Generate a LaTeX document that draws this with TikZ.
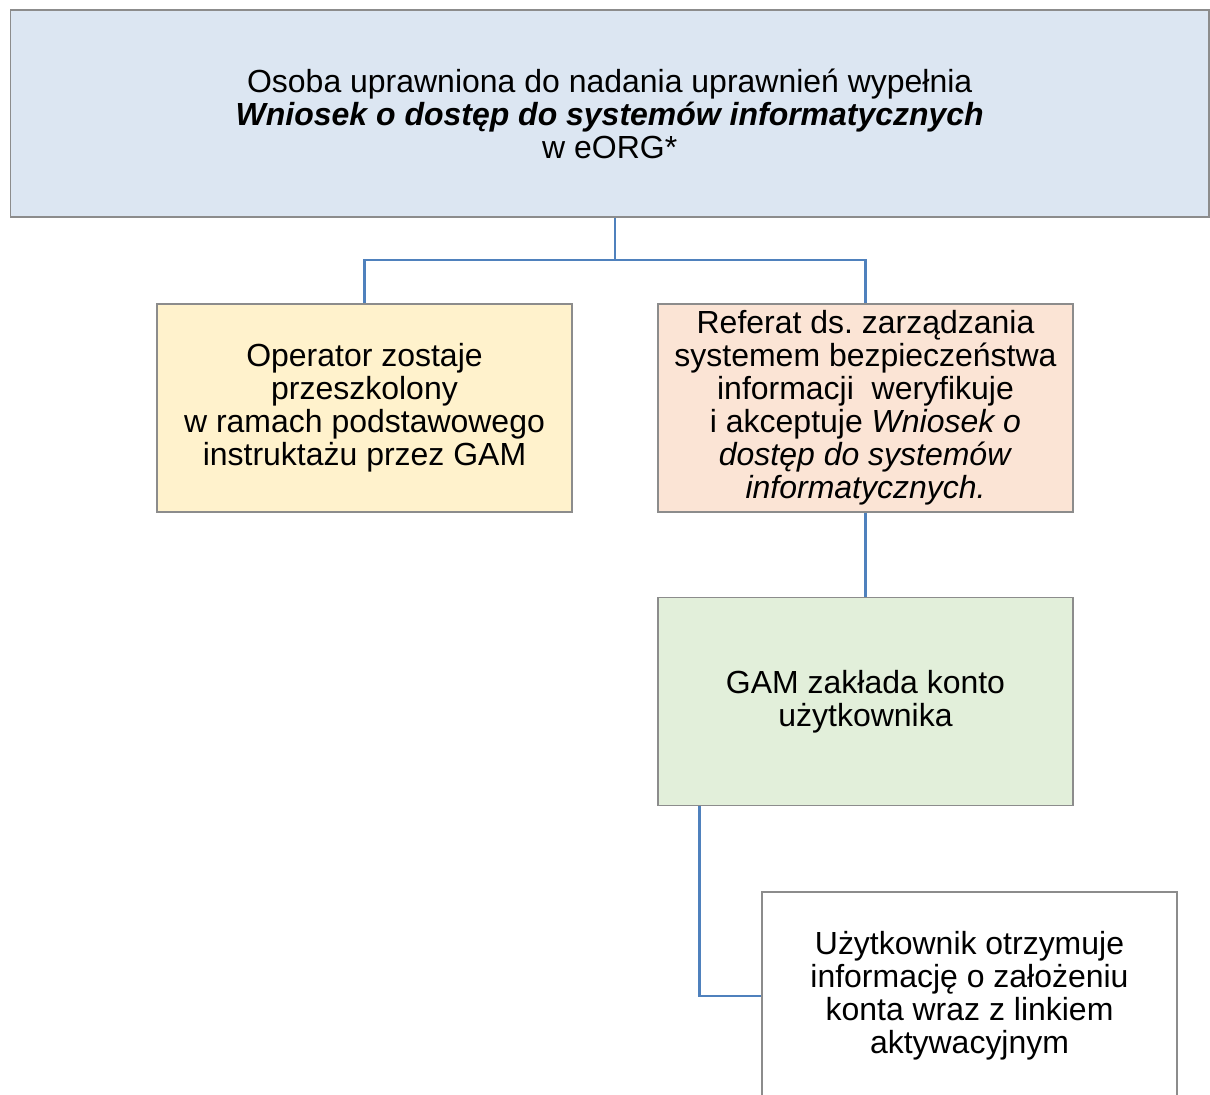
\documentclass[tikz,border=0pt]{standalone}
\usepackage{fontspec}
\setmainfont{Liberation Sans}
\usepackage{tikz}
\usetikzlibrary{calc,positioning}
\definecolor{topblue}{HTML}{DCE6F2}
\definecolor{opyellow}{HTML}{FFF2CC}
\definecolor{refpeach}{HTML}{FBE4D5}
\definecolor{gamgreen}{HTML}{E2EFDA}
\definecolor{boxgray}{HTML}{8C8C8C}
\definecolor{linkblue}{HTML}{4F81BD}
\frenchspacing

\begin{document}
\begin{tikzpicture}[x=0.02cm,y=-0.02cm,
    box/.style={draw=boxgray,line width=0.8pt,align=center,inner sep=0pt,
      minimum width=8.3cm,minimum height=4.16cm,
      font=\fontsize{18.2}{18.8}\selectfont},
    link/.style={draw=linkblue,line width=1.5pt}]
          \begin{scope}
            \clip (0,0) rectangle (1210,1095);
            \node[box,fill=topblue,minimum width=23.98cm,minimum height=4.14cm] (top) at (609.75,113.5)
              {Osoba uprawniona do nadania uprawnień wypełnia\\
               \textbf{\textit{Wniosek o dostęp do systemów informatycznych}}\\
               w eORG*};
            \node[box,fill=opyellow] (oper) at (364.5,408) {Operator zostaje\\ przeszkolony\\ w ramach podstawowego\\ instruktażu przez GAM};
            \node[box,fill=refpeach] (ref) at (865.5,408) {Referat ds. zarządzania\\ systemem bezpieczeństwa\\ informacji\ \ weryfikuje\\ i akceptuje \textit{Wniosek o}\\ \textit{dostęp do systemów}\\ \textit{informatycznych.}};
            \node[box,fill=gamgreen] (gam) at (865.5,701.5) {GAM zakłada konto\\ użytkownika};
            \node[box,fill=white] (user) at (969.5,996) {Użytkownik otrzymuje\\ informację o założeniu\\ konta wraz z linkiem\\ aktywacyjnym};
            \coordinate (split) at (615,260);
            \draw[link] (top.south -| split) -- (split);
            \draw[link] (oper.north) |- (split) -| (ref.north);
            \draw[link] (ref.south) -- (gam.north);
            \draw[link] ([xshift=0.84cm]gam.south west) |- (user.west);
          \end{scope}
        \end{tikzpicture}
\end{document}
